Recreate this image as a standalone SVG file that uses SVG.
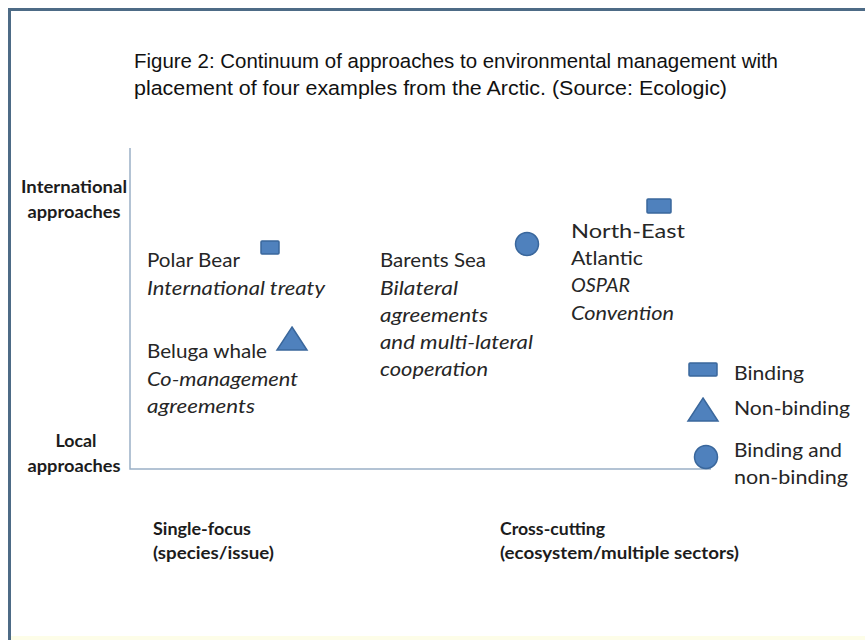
<svg xmlns="http://www.w3.org/2000/svg" width="865" height="640" viewBox="0 0 865 640">
  <style>
    .cap { font-family: "Liberation Sans", Arial, sans-serif; font-size: 20.5px; fill: #111; }
    .lbl { font-family: Lato, "Open Sans", "DejaVu Sans", sans-serif; font-size: 19px; fill: #262626; }
    .it { font-style: italic; }
    .ax { font-family: Lato, "Open Sans", "DejaVu Sans", sans-serif; font-size: 16.5px; font-weight: bold; fill: #1c1c1c; }
    .mark { fill: #4f81bd; stroke: #3a679c; stroke-width: 1.5; }
    .axis { stroke: #9ab0c6; stroke-width: 1.5; fill: none; }
  </style>

  <!-- page background and frame -->
  <rect x="0" y="0" width="865" height="640" fill="#ffffff"/>
  <rect x="10" y="636" width="855" height="4" fill="#fdfde8"/>
  <line x1="8" y1="9.5" x2="865" y2="9.5" stroke="#4d6b86" stroke-width="3"/>
  <line x1="9.5" y1="8" x2="9.5" y2="640" stroke="#4d6b86" stroke-width="3"/>

  <!-- caption -->
  <g id="caption">
    <text class="cap" x="134" y="68" textLength="644" lengthAdjust="spacingAndGlyphs">Figure 2: Continuum of approaches to environmental management with</text>
    <text class="cap" x="134" y="95" textLength="593" lengthAdjust="spacingAndGlyphs">placement of four examples from the Arctic. (Source: Ecologic)</text>
  </g>

  <!-- axes -->
  <g id="axes">
    <polyline class="axis" points="130,148 130,469 711,469"/>
  </g>

  <!-- axis labels -->
  <g id="y-labels">
    <text class="ax" x="74" y="193" text-anchor="middle" textLength="106" lengthAdjust="spacingAndGlyphs">International</text>
    <text class="ax" x="74" y="218" text-anchor="middle" textLength="93" lengthAdjust="spacingAndGlyphs">approaches</text>
    <text class="ax" x="76" y="447" text-anchor="middle" textLength="41" lengthAdjust="spacingAndGlyphs">Local</text>
    <text class="ax" x="74" y="472" text-anchor="middle" textLength="93" lengthAdjust="spacingAndGlyphs">approaches</text>
  </g>
  <g id="x-labels">
    <text class="ax" x="153" y="535" textLength="98" lengthAdjust="spacingAndGlyphs">Single-focus</text>
    <text class="ax" x="153" y="559" textLength="121" lengthAdjust="spacingAndGlyphs">(species/issue)</text>
    <text class="ax" x="500" y="535" textLength="105" lengthAdjust="spacingAndGlyphs">Cross-cutting</text>
    <text class="ax" x="500" y="559" textLength="239" lengthAdjust="spacingAndGlyphs">(ecosystem/multiple sectors)</text>
  </g>

  <!-- examples -->
  <g id="polar-bear">
    <rect class="mark" x="261" y="241" width="18" height="13" rx="1"/>
    <text class="lbl" x="147" y="267" textLength="93" lengthAdjust="spacingAndGlyphs">Polar Bear</text>
    <text class="lbl it" x="147" y="295" textLength="178" lengthAdjust="spacingAndGlyphs">International treaty</text>
  </g>

  <g id="beluga-whale">
    <polygon class="mark" points="292,327 307,350 277,350"/>
    <text class="lbl" x="147" y="358" textLength="120" lengthAdjust="spacingAndGlyphs">Beluga whale</text>
    <text class="lbl it" x="147" y="386" textLength="151" lengthAdjust="spacingAndGlyphs">Co-management</text>
    <text class="lbl it" x="147" y="413" textLength="108" lengthAdjust="spacingAndGlyphs">agreements</text>
  </g>

  <g id="barents-sea">
    <circle class="mark" cx="527" cy="244" r="11.5"/>
    <text class="lbl" x="380" y="267" textLength="106" lengthAdjust="spacingAndGlyphs">Barents Sea</text>
    <text class="lbl it" x="380" y="295" textLength="78" lengthAdjust="spacingAndGlyphs">Bilateral</text>
    <text class="lbl it" x="380" y="322" textLength="108" lengthAdjust="spacingAndGlyphs">agreements</text>
    <text class="lbl it" x="380" y="349" textLength="153" lengthAdjust="spacingAndGlyphs">and multi-lateral</text>
    <text class="lbl it" x="380" y="376" textLength="108" lengthAdjust="spacingAndGlyphs">cooperation</text>
  </g>

  <g id="north-east-atlantic">
    <rect class="mark" x="647" y="199" width="24" height="14" rx="1"/>
    <text class="lbl" x="571" y="238" textLength="114" lengthAdjust="spacingAndGlyphs">North-East</text>
    <text class="lbl" x="571" y="265" textLength="72" lengthAdjust="spacingAndGlyphs">Atlantic</text>
    <text class="lbl it" x="571" y="292" textLength="59" lengthAdjust="spacingAndGlyphs">OSPAR</text>
    <text class="lbl it" x="571" y="320" textLength="103" lengthAdjust="spacingAndGlyphs">Convention</text>
  </g>

  <!-- legend -->
  <g id="legend-binding">
    <rect class="mark" x="689" y="363" width="28" height="13" rx="1"/>
    <text class="lbl" x="734" y="380" textLength="70" lengthAdjust="spacingAndGlyphs">Binding</text>
  </g>
  <g id="legend-non-binding">
    <polygon class="mark" points="703,398 718,421 688,421"/>
    <text class="lbl" x="734" y="415" textLength="116" lengthAdjust="spacingAndGlyphs">Non-binding</text>
  </g>
  <g id="legend-both">
    <circle class="mark" cx="706" cy="457" r="11.5"/>
    <text class="lbl" x="734" y="457" textLength="108" lengthAdjust="spacingAndGlyphs">Binding and</text>
    <text class="lbl" x="734" y="484" textLength="114" lengthAdjust="spacingAndGlyphs">non-binding</text>
  </g>
</svg>
